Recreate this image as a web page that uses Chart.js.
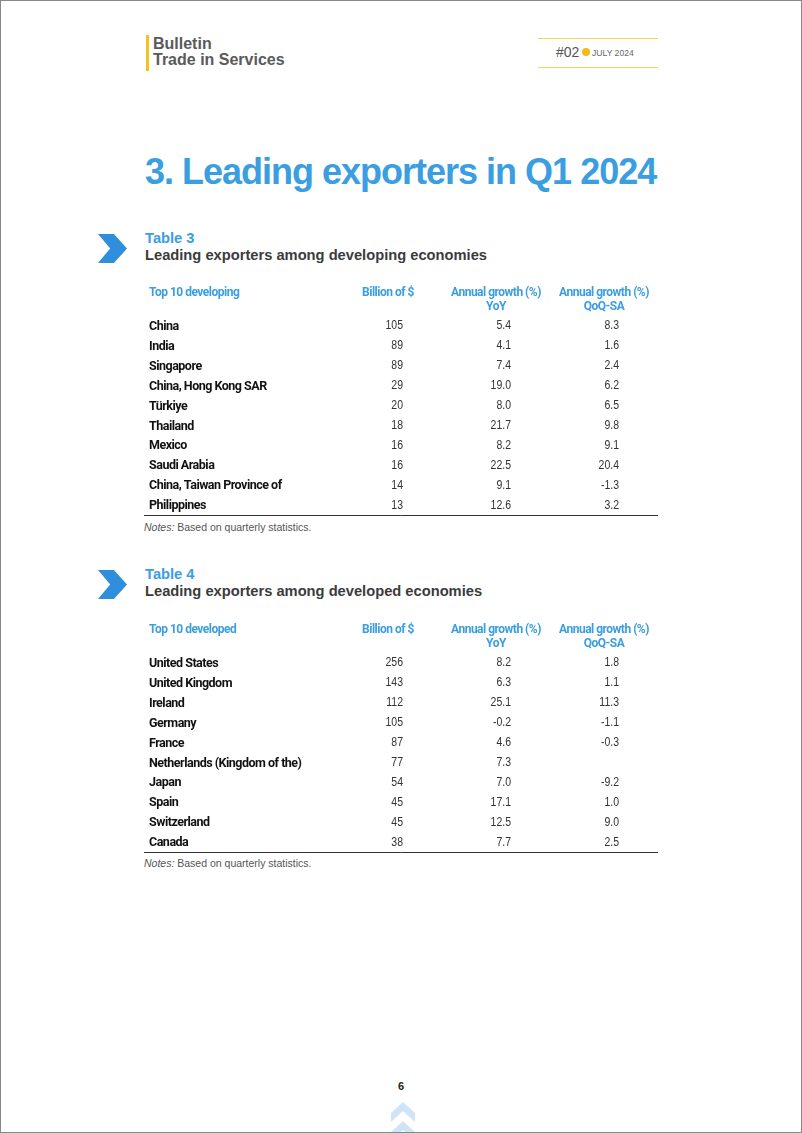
<!DOCTYPE html>
<html>
<head>
<meta charset="utf-8">
<script src="https://cdn.jsdelivr.net/npm/chart.js@4.4.1/dist/chart.umd.min.js"></script>
<style>
  body { margin: 0; background: #fff; }
  #page { position: relative; width: 800px; height: 1131px; border: 1px solid #888; background: #fff; overflow: hidden; font-family: "Liberation Sans", Arial, sans-serif; }
  .abs { position: absolute; white-space: nowrap; }
  .ybar { left: 145px; top: 34px; width: 3px; height: 36px; background: #f4c21b; }
  .brand { left: 152px; top: 35px; font-size: 16px; font-weight: bold; color: #5a5a5a; line-height: 16px; }
  .hline { left: 537px; width: 120px; height: 1px; background: #f6d35a; }
  .issue { left: 555px; top: 43px; font-size: 14px; color: #555; }
  .dot { left: 581px; top: 47px; width: 8px; height: 8px; border-radius: 50%; background: #f4b81b; }
  .month { left: 591px; top: 47px; font-size: 8.6px; color: #666; letter-spacing: 0px; }
  .title { left: 144px; top: 150px; font-size: 36px; font-weight: bold; color: #3a9ee0; letter-spacing: -1px; }
  .chev { width: 29px; height: 29px; background: #2f8fdc; clip-path: polygon(0 0, 55% 0, 100% 50%, 55% 100%, 0 100%, 42% 50%); }
  .tnum { left: 144px; font-size: 14.7px; font-weight: bold; color: #3a9ee0; }
  .tsub { left: 144px; font-size: 14.7px; font-weight: bold; color: #3b3b3b; }
  .notes { left: 143px; font-size: 10.5px; color: #555; }
  .wrap { position: absolute; left: 143px; width: 514px; }
  .pnum { left: 397px; top: 1079px; font-size: 11px; font-weight: bold; color: #222; }
  .up { width: 24px; height: 20px; background: #cfe5f7; clip-path: polygon(50% 0, 100% 55%, 100% 100%, 50% 45%, 0 100%, 0 55%); }
</style>
</head>
<body>
<div id="page">
  <div class="abs ybar"></div>
  <div class="abs brand">Bulletin<br>Trade in Services</div>
  <div class="abs hline" style="top:37px"></div>
  <div class="abs hline" style="top:66px"></div>
  <div class="abs issue">#02</div>
  <div class="abs dot"></div>
  <div class="abs month">JULY 2024</div>

  <div class="abs title">3. Leading exporters in Q1 2024</div>

  <div class="abs chev" style="left:97px; top:233px"></div>
  <div class="abs tnum" style="top:229px">Table 3</div>
  <div class="abs tsub" style="top:246px">Leading exporters among developing economies</div>
  <div class="wrap" style="top:280px; height:238px"><canvas id="t3"></canvas></div>
  <div class="abs notes" style="top:520px"><i>Notes:</i> Based on quarterly statistics.</div>

  <div class="abs chev" style="left:97px; top:569px"></div>
  <div class="abs tnum" style="top:565px">Table 4</div>
  <div class="abs tsub" style="top:582px">Leading exporters among developed economies</div>
  <div class="wrap" style="top:617px; height:238px"><canvas id="t4"></canvas></div>
  <div class="abs notes" style="top:856px"><i>Notes:</i> Based on quarterly statistics.</div>

  <div class="abs pnum">6</div>
  <div class="abs up" style="left:390px; top:1101px"></div>
  <div class="abs up" style="left:390px; top:1120px"></div>
</div>
<script>
// Table 3: developing economies
var devNames = ['China', 'India', 'Singapore', 'China, Hong Kong SAR', 'Türkiye', 'Thailand', 'Mexico', 'Saudi Arabia', 'China, Taiwan Province of', 'Philippines'];
var devBillion = [105, 89, 89, 29, 20, 18, 16, 16, 14, 13];
var devYoY = [5.4, 4.1, 7.4, 19.0, 8.0, 21.7, 8.2, 22.5, 9.1, 12.6];
var devQoQ = [8.3, 1.6, 2.4, 6.2, 6.5, 9.8, 9.1, 20.4, -1.3, 3.2];

// Table 4: developed economies
var dvdNames = ['United States', 'United Kingdom', 'Ireland', 'Germany', 'France', 'Netherlands (Kingdom of the)', 'Japan', 'Spain', 'Switzerland', 'Canada'];
var dvdBillion = [256, 143, 112, 105, 87, 77, 54, 45, 45, 38];
var dvdYoY = [8.2, 6.3, 25.1, -0.2, 4.6, 7.3, 7.0, 17.1, 12.5, 7.7];
var dvdQoQ = [1.8, 1.1, 11.3, -1.1, -0.3, null, -9.2, 1.0, 9.0, 2.5];

var colHeaders = [['Billion of $', ''], ['Annual growth (%)', 'YoY'], ['Annual growth (%)', 'QoQ-SA']];

var cond = 'Roboto, "Liberation Sans", sans-serif';
var blue = '#3a9ee0';

// no condensed face installed, so squeeze the letters a bit
var tight = {
  id: 'tight',
  beforeUpdate: function(chart) { chart.ctx.letterSpacing = '-0.5px'; },
  beforeDraw: function(chart) { chart.ctx.letterSpacing = '-0.5px'; }
};

// writes the numbers at the points the scales place them
var cellText = {
  id: 'cellText',
  afterDatasetsDraw: function(chart, args, opts) {
    var ctx = chart.ctx;
    ctx.save();
    ctx.letterSpacing = '0px';
    ctx.font = '12.5px "Liberation Sans", Arial, sans-serif';
    ctx.fillStyle = '#333';
    ctx.textAlign = 'right';
    ctx.textBaseline = 'middle';
    chart.data.datasets.forEach(function(ds, di) {
      chart.getDatasetMeta(di).data.forEach(function(pt, i) {
        var v = ds.data[i].v;
        if (v === null) return;
        ctx.save();
        ctx.translate(pt.x + 15, pt.y);
        ctx.scale(0.84, 1);
        ctx.fillText(v.toFixed(ds.digits), 0, 0);
        ctx.restore();
      });
    });
    ctx.letterSpacing = '-0.5px';
    ctx.font = 'bold 12px ' + cond;
    ctx.fillStyle = blue;
    ctx.textAlign = 'left';
    ctx.fillText(opts.corner, chart.chartArea.left + 5, chart.chartArea.top - 23);
    ctx.restore();
  }
};

function cells(names, vals, col) {
  return names.map(function(n, i) { return {x: col, y: n, v: vals[i]}; });
}

function makeTable(id, names, billion, yoy, qoq, corner) {
  new Chart(document.getElementById(id), {
    type: 'scatter',
    data: {
      datasets: [
        {data: cells(names, billion, 1), digits: 0},
        {data: cells(names, yoy, 2), digits: 1},
        {data: cells(names, qoq, 3), digits: 1}
      ]
    },
    plugins: [tight, cellText],
    options: {
      responsive: true,
      maintainAspectRatio: false,
      animation: false,
      events: [],
      elements: { point: { radius: 0 } },
      layout: { padding: { top: 0, bottom: 4, left: 0, right: 0 } },
      scales: {
        x: {
          type: 'linear',
          position: 'top',
          min: -1.259,
          max: 3.5,
          afterBuildTicks: function(s) { s.ticks = [{value: 1}, {value: 2}, {value: 3}]; },
          afterFit: function(s) { s.height = 35; },
          grid: { display: false, drawTicks: false },
          border: { display: false },
          ticks: {
            autoSkip: false,
            maxRotation: 0,
            padding: 2,
            color: blue,
            font: { family: cond, size: 12, weight: 'bold', lineHeight: 1.17 },
            callback: function(v) { return colHeaders[v - 1]; }
          }
        },
        x2: {
          type: 'linear',
          axis: 'x',
          position: 'bottom',
          min: 0,
          max: 1,
          afterFit: function(s) { s.height = 0; },
          grid: { display: false, drawTicks: false },
          border: { display: true, color: '#333', width: 1 },
          ticks: { display: false }
        },
        y: {
          type: 'category',
          labels: names,
          offset: true,
          afterFit: function(s) { s.width = 0; s.paddingTop = 0; s.paddingBottom = 0; },
          grid: { display: false, drawTicks: false },
          border: { display: false },
          ticks: {
            mirror: true,
            padding: 5,
            labelOffset: 1,
            color: '#111',
            font: { family: cond, size: 12.5, weight: 'bold' }
          }
        }
      },
      plugins: {
        legend: { display: false },
        tooltip: { enabled: false },
        cellText: { corner: corner }
      }
    }
  });
}

makeTable('t3', devNames, devBillion, devYoY, devQoQ, 'Top 10 developing');
makeTable('t4', dvdNames, dvdBillion, dvdYoY, dvdQoQ, 'Top 10 developed');
</script>
</body>
</html>
